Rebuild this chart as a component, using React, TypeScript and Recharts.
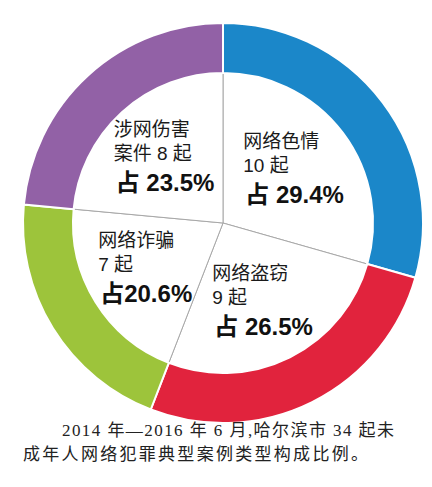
import { PieChart, Pie, Cell } from 'recharts';

const CATEGORIES = ['网络色情', '网络盗窃', '网络诈骗', '涉网伤害'];
const CATEGORY_PREFIXES = ['', '', '', '案件 '];
const CASE_COUNTS = [10, 9, 7, 8];
const SHARE_LABELS = ['占 29.4%', '占 26.5%', '占20.6%', '占 23.5%'];
const COLORS = ['#1b87c9', '#e1233d', '#9dc43b', '#9261a6'];

const CAPTION_LINES = [
    '2014 年—2016 年 6 月,哈尔滨市 34 起未',
    '成年人网络犯罪典型案例类型构成比例。',
];

const data = CATEGORIES.map((name, i) => ({
    name,
    value: CASE_COUNTS[i],
    countText: `${CATEGORY_PREFIXES[i]}${CASE_COUNTS[i]} 起`,
    share: SHARE_LABELS[i],
}));

const RADIAN = Math.PI / 180;
const CX = 218;
const CY = 218;
const LABEL_FONT = '"Liberation Sans", Arial, "Noto Sans CJK SC", sans-serif';
const CAPTION_FONT = '"Liberation Serif", "DejaVu Serif", "Noto Sans CJK SC", serif';

const renderLabel = (props: any) => {
    const { cx, cy, midAngle, payload } = props;
    const r = 88;
    const x = cx + r * Math.cos(-midAngle * RADIAN);
    const y = cy + r * Math.sin(-midAngle * RADIAN);
    const left = x - 50;
    return (
        <g>
            <text x={left} y={y - 22} fontSize={19} fill="#1a1a1a" fontFamily={LABEL_FONT}>
                {payload.name}
            </text>
            <text x={left} y={y + 2} fontSize={19} fill="#1a1a1a" fontFamily={LABEL_FONT}>
                {payload.countText}
            </text>
            <text x={left + 2} y={y + 33} fontSize={24} fontWeight="bold" fill="#111" fontFamily={LABEL_FONT}>
                {payload.share}
            </text>
        </g>
    );
};

export default function App() {
    return (
        <div style={{ position: 'absolute', left: 0, top: 0, width: 432, height: 487, background: '#fff' }}>
            <PieChart width={432} height={487}>
                <Pie
                    data={data}
                    dataKey="value"
                    cx={CX}
                    cy={CY}
                    innerRadius={0}
                    outerRadius={151}
                    startAngle={90}
                    endAngle={-270}
                    fill="#fff"
                    stroke="#a8a8a8"
                    strokeWidth={1}
                    label={renderLabel}
                    labelLine={false}
                    isAnimationActive={false}
                />
                <Pie
                    data={data}
                    dataKey="value"
                    cx={CX}
                    cy={CY}
                    innerRadius={150}
                    outerRadius={200}
                    startAngle={90}
                    endAngle={-270}
                    stroke="#fff"
                    strokeWidth={2}
                    isAnimationActive={false}
                >
                    {data.map((d, i) => (
                        <Cell key={d.name} fill={COLORS[i]} />
                    ))}
                </Pie>
            </PieChart>
            <svg width={432} height={487} style={{ position: 'absolute', left: 0, top: 0 }}>
                <text
                    x={62}
                    y={436}
                    fontSize={17}
                    fill="#222"
                    fontFamily={CAPTION_FONT}
                    textLength={332}
                    lengthAdjust="spacing"
                >
                    {CAPTION_LINES[0]}
                </text>
                <text
                    x={23}
                    y={460}
                    fontSize={17}
                    fill="#222"
                    fontFamily={CAPTION_FONT}
                    textLength={345}
                    lengthAdjust="spacing"
                >
                    {CAPTION_LINES[1]}
                </text>
            </svg>
        </div>
    );
}
